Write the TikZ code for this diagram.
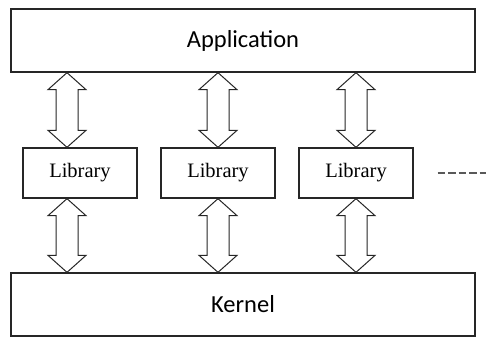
\documentclass[tikz,border=0pt]{standalone}
\usepackage{fontspec}
\setmainfont{Liberation Serif}
\newfontfamily\calfont{Carlito}
\usetikzlibrary{calc}

\tikzset{
  layerbox/.style={draw=black!85, line width=1.3pt, fill=white, inner sep=0pt,
    minimum width=464pt, minimum height=63pt, font=\calfont\fontsize{24.5}{28}\selectfont},
  libbox/.style={draw=black!85, line width=1.3pt, fill=white, inner sep=0pt,
    minimum width=114pt, minimum height=50pt, font=\fontsize{20.5}{24}\selectfont},
  dblarrow/.style={draw=black!85, line width=1pt, fill=white, line join=miter},
  moredots/.style={draw=black!65, line width=1.4pt, dash pattern=on 7.5pt off 3pt}
}

% hollow double-headed arrow between a top point and a bottom point
\newcommand\hollowarrow[2]{%
  \draw[dblarrow] (#1) -- ++(19,17) -- ++(-8,0) -- ($(#2)+(11,-17)$)
    -- ++(8,0) -- (#2) -- ++(-19,-17) -- ++(8,0)
    -- ($(#1)+(-11,17)$) -- ++(-8,0) -- cycle;}

\begin{document}
\begin{tikzpicture}[x=1pt, y=-1pt]
  \useasboundingbox (0,0) rectangle (486,338);

  \node[layerbox] (app) at (243,40.5) {Application};
  \node[libbox] (lib1) at (80,173) {Library};
  \node[libbox] (lib2) at (218,173) {Library};
  \node[libbox] (lib3) at (356,173) {Library};
  \node[layerbox] (kern) at (243,304.5) {Kernel};

  % arrow end points on the box edges
  \coordinate (l1t) at ($(lib1.north)+(-13,0)$);
  \coordinate (l1b) at ($(lib1.south)+(-13,0)$);
  \coordinate (a1) at (app.south -| l1t);
  \coordinate (k1) at (kern.north -| l1b);

  \hollowarrow{a1}{l1t}
  \hollowarrow{app.south -| lib2.north}{lib2.north}
  \hollowarrow{app.south -| lib3.north}{lib3.north}
  \hollowarrow{l1b}{k1}
  \hollowarrow{lib2.south}{kern.north -| lib2.south}
  \hollowarrow{lib3.south}{kern.north -| lib3.south}

  % further libraries continue to the right
  \coordinate (dotsstart) at ($(lib3.east)+(24,0)$);
  \coordinate (dotsend) at (486,173);
  \draw[moredots] (dotsstart) -- (dotsend);
\end{tikzpicture}
\end{document}
